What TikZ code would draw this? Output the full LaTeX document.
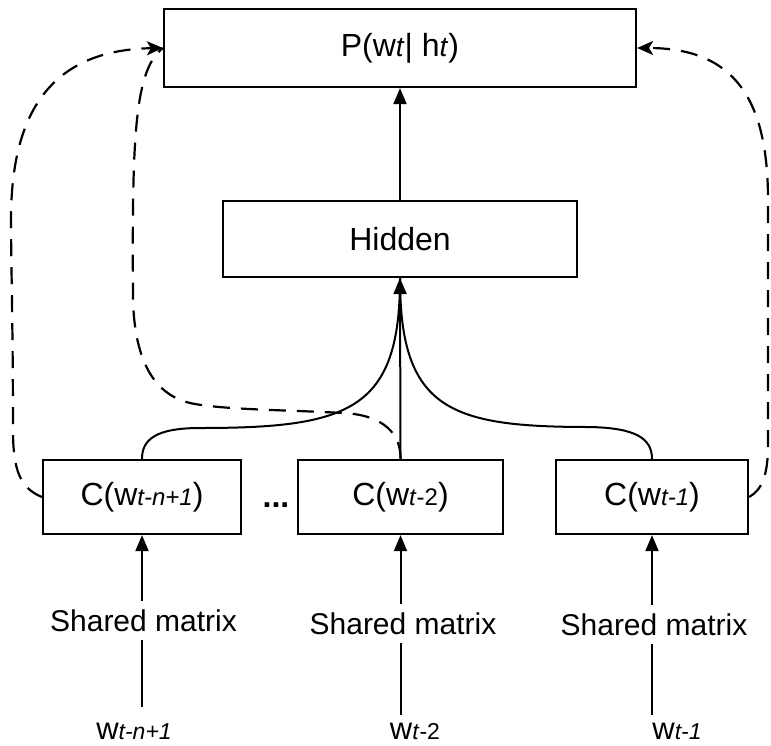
\documentclass[tikz,border=0pt]{standalone}
\usepackage{fontspec}
\setmainfont{Liberation Sans}
\usetikzlibrary{arrows.meta}
\newcommand{\subtx}[1]{{\fontsize{24}{28}\selectfont #1}}
\newcommand{\subtxb}[1]{{\fontsize{23}{26}\selectfont #1}}
\begin{document}
\begin{tikzpicture}[x=1pt,y=-1pt,
  box/.style={draw,line width=2.2pt,inner sep=0pt,font=\fontsize{32}{38}\selectfont},
  lbl/.style={inner sep=0pt,anchor=base},
  smx/.style={inner sep=8pt,anchor=base,font=\fontsize{30}{34}\selectfont},
  conn/.style={line width=2pt},
  arr/.style={line width=2pt,-{Triangle[length=16pt,width=13pt]}},
  dsh/.style={line width=2.2pt,dash pattern=on 17pt off 11pt},
  darr/.style={dsh,-{Stealth[length=16pt,width=14pt,inset=4pt]}}
]
\useasboundingbox (0,0) rectangle (771,745);

% boxes
\node[box,minimum width=472pt,minimum height=78pt] (p) at (400,48)
  {P(w{\fontsize{28}{30}\selectfont\textit{t}}|~h{\fontsize{28}{30}\selectfont\textit{t}})};
\node[box,minimum width=354pt,minimum height=76pt] (hid) at (400,239) {Hidden};
\node[box,minimum width=198pt,minimum height=74pt] (c1) at (142,497) {C(w\subtx{\textit{t-n+1}})};
\node[box,minimum width=205pt,minimum height=74pt] (c2) at (400.5,497) {C(w\subtx{\textit{t}-2})};
\node[box,minimum width=192pt,minimum height=74pt] (c3) at (652,497) {C(w\subtx{\textit{t-1}})};
\node[lbl,font=\fontsize{32}{38}\selectfont\bfseries] (dots) at (276,507) {...};

% shared matrix labels
\node[smx] (s1) at (143.5,631) {Shared matrix};
\node[smx] (s2) at (403,634) {Shared matrix};
\node[smx] (s3) at (654,635) {Shared matrix};

% word labels
\node[lbl] (w1) at (134,739) {{\fontsize{31}{34}\selectfont w}\subtxb{\textit{t-n+1}}};
\node[lbl] (w2) at (415,739) {{\fontsize{31}{34}\selectfont w}\subtxb{\textit{t}-2}};
\node[lbl] (w3) at (677,739) {{\fontsize{31}{34}\selectfont w}\subtxb{\textit{t-1}}};

\coordinate (e1) at (142,707);
\coordinate (e2) at (400.5,715);
\coordinate (e3) at (652,715);

% solid connectors
\draw[arr] (hid.north) -- (p.south);
\draw[arr] (c2.north) -- (hid.south);
\draw[conn] (c1.north) .. controls (142,440) and (155,428) .. (200,428)
  .. controls (350,428) and (400,410) .. (hid.south);
\draw[conn] (c3.north) .. controls (652,438) and (635,428) .. (590,427)
  .. controls (450,427) and (400,410) .. (hid.south);

\draw[arr] (c1.south |- s1.north) -- (c1.south);
\draw[arr] (c2.south |- s2.north) -- (c2.south);
\draw[arr] (c3.south |- s3.north) -- (c3.south);
\draw[conn] (e1) -- (c1.south |- s1.south);
\draw[conn] (e2) -- (c2.south |- s2.south);
\draw[conn] (e3) -- (c3.south |- s3.south);

% dashed connectors
\draw[darr] (c1.west) .. controls (20,488) and (13,470) .. (13,430)
  .. controls (13,330) and (11,260) .. (11,220)
  .. controls (11,120) and (45,50) .. (p.west);
\draw[dsh] (c2.north) .. controls (401,435) and (385,415) .. (343,413)
  .. controls (290,410) and (230,410) .. (195,404)
  .. controls (160,398) and (135,370) .. (133,300)
  .. controls (132,140) and (134,70) .. (p.west);
\draw[darr] (c3.east) .. controls (762,490) and (768,475) .. (768,445)
  -- (768,200) .. controls (768,100) and (735,48) .. (p.east);
\end{tikzpicture}
\end{document}
